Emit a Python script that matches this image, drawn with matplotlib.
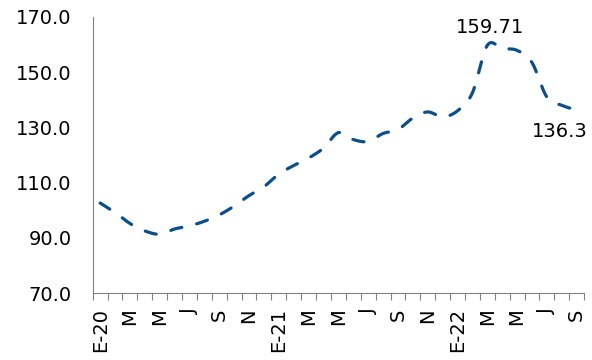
import numpy as np
import matplotlib
matplotlib.use("Agg")
import matplotlib.pyplot as plt

# monthly index, Jan 2020 - Sep 2022
values = [102.6, 99.2, 95.2, 92.5, 91.3, 93.2, 94.3, 96.0, 98.3, 101.5, 105.3, 108.5,
          113.1, 116.2, 118.9, 122.5, 128.1, 125.6, 124.9, 127.8, 129.2, 133.4, 135.6, 133.8,
          136.0, 142.5, 159.71, 158.6, 157.9, 153.5, 141.0, 138.0, 136.3]
month_letters = ["E", "F", "M", "A", "M", "J", "J", "A", "S", "O", "N", "D"]
years = ["20", "21", "22"]
yticks = [70.0, 90.0, 110.0, 130.0, 150.0, 170.0]

n = len(values)
x = np.arange(n)
labels = []
for i in range(n):
    m = i % 12
    if m % 2:
        labels.append("")
    elif m == 0:
        labels.append("E-" + years[i // 12])
    else:
        labels.append(month_letters[m])


def smooth(xs, ys, steps=20):
    # catmull-rom curve through the points, like a smoothed office chart line
    xs = np.asarray(xs, float)
    ys = np.asarray(ys, float)
    px = np.concatenate([[xs[0]], xs, [xs[-1]]])
    py = np.concatenate([[ys[0]], ys, [ys[-1]]])
    ox, oy = [], []
    for k in range(1, len(px) - 2):
        p0, p1, p2, p3 = px[k-1:k+3]
        q0, q1, q2, q3 = py[k-1:k+3]
        c1x, c1y = p1 + (p2 - p0) / 6, q1 + (q2 - q0) / 6
        c2x, c2y = p2 - (p3 - p1) / 6, q2 - (q3 - q1) / 6
        t = np.linspace(0, 1, steps, endpoint=False)
        b0, b1, b2, b3 = (1-t)**3, 3*(1-t)**2*t, 3*(1-t)*t**2, t**3
        ox.extend(b0*p1 + b1*c1x + b2*c2x + b3*p2)
        oy.extend(b0*q1 + b1*c1y + b2*c2y + b3*q2)
    ox.append(xs[-1])
    oy.append(ys[-1])
    return ox, oy


plt.rcParams['font.family'] = ['DejaVu Sans']
plt.rcParams['lines.scale_dashes'] = False

fig = plt.figure(figsize=(5.92, 3.6), dpi=100)
ax = fig.add_axes([0.1566, 0.1861, 0.83, 0.7667])

sx, sy = smooth(x, values)
ax.plot(sx, sy, color="#0a4f8c", lw=2.3, dashes=(8.2, 11.0),
        dash_capstyle="round", solid_capstyle="round")

ipk = int(np.argmax(values))
ax.annotate("%.2f" % values[ipk], (x[ipk], values[ipk]), xytext=(2, 13),
            textcoords="offset points", ha="center", va="center", fontsize=14)
ax.annotate("%.1f" % values[-1], (x[-1], values[-1]), xytext=(-12, -15.5),
            textcoords="offset points", ha="center", va="center", fontsize=14)

ax.set_xlim(-0.5, n - 0.5)
ax.set_ylim(70, 170)
ax.set_yticks(yticks)
ax.set_yticklabels(["%.1f" % v for v in yticks])
ax.tick_params(axis="y", length=0, pad=15, labelsize=14)

ax.set_xticks(x)
ax.set_xticklabels(labels, rotation=90)
ax.set_xticks(np.arange(-0.5, n), minor=True)
ax.tick_params(axis="x", which="major", length=0, pad=11, labelsize=14)
ax.tick_params(axis="x", which="minor", length=5, width=0.8, color="#808080")

for s in ["top", "right"]:
    ax.spines[s].set_visible(False)
for s in ["left", "bottom"]:
    ax.spines[s].set_color("#808080")
    ax.spines[s].set_linewidth(0.8)

fig.savefig("out.png", dpi=100)
